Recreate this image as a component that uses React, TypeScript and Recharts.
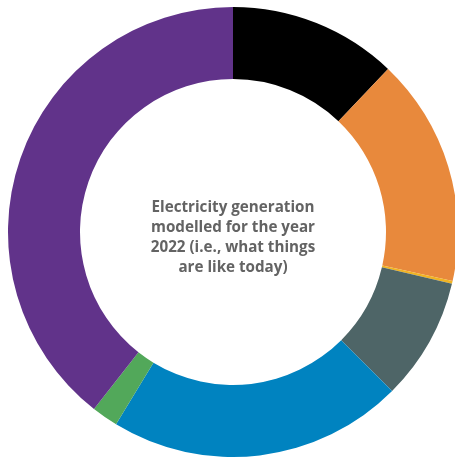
import React from "react";
import { PieChart, Pie, Cell, Label } from "recharts";

const sources = ["Coal", "Natural gas", "Oil", "Other", "Hydro", "Wind & solar", "Nuclear"];
const shares = [12.1, 16.4, 0.2, 8.8, 21.2, 1.9, 39.4];
const colors = ["#000000", "#e8893c", "#f0b323", "#4e6567", "#0083c0", "#52a85a", "#61338a"];
const centerLines = [
  "Electricity generation",
  "modelled for the year",
  "2022 (i.e., what things",
  "are like today)",
];

const data = sources.map((name, i) => ({ name, value: shares[i] }));

const CenterText = (props: any) => {
  const vb = props.viewBox || {};
  const cx = vb.cx ?? 233;
  const cy = vb.cy ?? 232;
  const lh = 19.7;
  const start = cy + 4 - ((centerLines.length - 1) * lh) / 2;
  return (
    <text
      x={cx}
      textAnchor="middle"
      fill="#636363"
      style={{ fontFamily: "'Open Sans', Lato, sans-serif", fontWeight: 700, fontSize: 15.2 }}
    >
      {centerLines.map((l, i) => (
        <tspan key={i} x={cx} y={start + i * lh} dominantBaseline="central">
          {l}
        </tspan>
      ))}
    </text>
  );
};

export default function App() {
  return (
    <div style={{ position: "fixed", left: 0, top: 0, width: 455, height: 459, overflow: "hidden" }}>
      <PieChart width={455} height={459} margin={{ top: 0, right: 0, bottom: 0, left: 0 }}>
        <Pie
          data={data}
          dataKey="value"
          nameKey="name"
          cx={233}
          cy={232}
          innerRadius={153}
          outerRadius={225}
          startAngle={90}
          endAngle={-270}
          stroke="none"
          isAnimationActive={false}
        >
          {data.map((d, i) => (
            <Cell key={d.name} fill={colors[i]} />
          ))}
          <Label position="center" content={<CenterText />} />
        </Pie>
      </PieChart>
    </div>
  );
}
